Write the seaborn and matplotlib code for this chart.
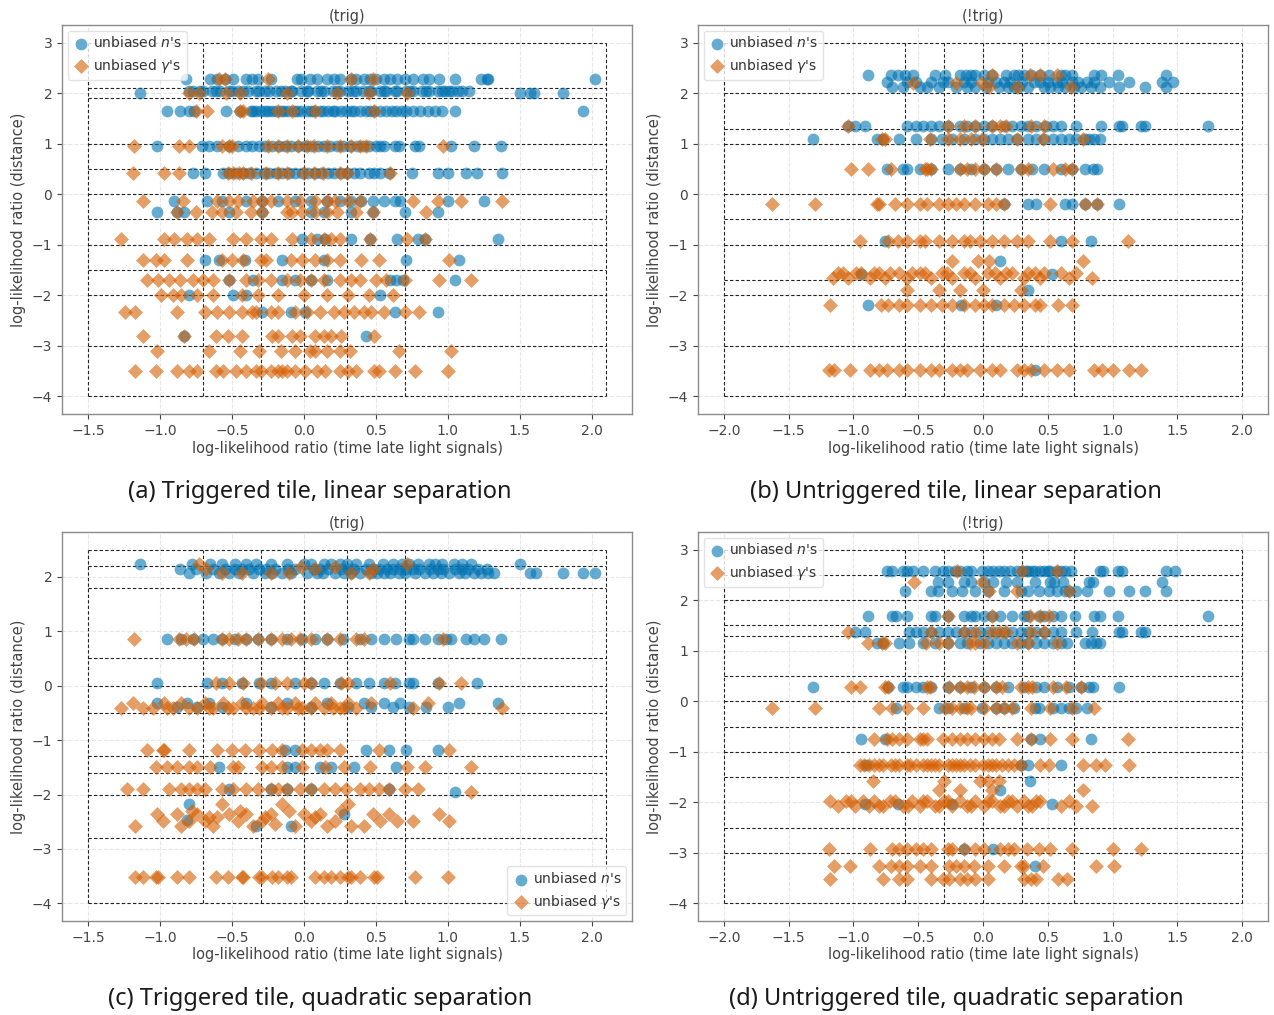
import numpy as np
import pandas as pd
import matplotlib
matplotlib.use("Agg")
import matplotlib.pyplot as plt
import seaborn as sns

BLUE = "#0173b2"
ORANGE = "#d55e00"
LABEL_N = "unbiased $n$'s"
LABEL_G = "unbiased $\\gamma$'s"

# ---------------------------------------------------------------------------
# (a) triggered tile, linear separation: rows of (distance LLR, [timing LLR])
# ---------------------------------------------------------------------------
A_N_ROWS = [
    (2.28, [-0.82, -0.65, -0.60, -0.55, -0.49, -0.40, -0.36, -0.32, -0.23, -0.05, -0.02, 0.04, 0.09,
            0.16, 0.21, 0.25, 0.33, 0.36, 0.42, 0.46, 0.50, 0.56, 0.60, 0.65, 0.70, 0.76, 0.83, 0.87,
            0.94, 1.05, 1.23, 1.27, 1.28, 2.02]),
    (2.05, [-0.80, -0.77, -0.72, -0.70, -0.64, -0.61, -0.58, -0.52, -0.50, -0.46, -0.42, -0.39, -0.33,
            -0.31, -0.27, -0.24, -0.19, -0.16, -0.13, -0.09, -0.08, -0.02, 0.02, 0.03, 0.09, 0.12, 0.14,
            0.20, 0.23, 0.25, 0.31, 0.34, 0.36, 0.41, 0.45, 0.47, 0.53, 0.56, 0.57, 0.63, 0.65, 0.71,
            0.74, 0.76, 0.82, 0.85, 0.87, 0.93, 0.96, 0.98, 1.01, 1.03, 1.07, 1.10, 1.15]),
    (2.00, [-1.14, 1.50, 1.57, 1.60, 1.80]),
    (1.65, [-0.95, -0.86, -0.80, -0.76, -0.54, -0.44, -0.37, -0.35, -0.33, -0.30, -0.27, -0.25, -0.22,
            -0.19, -0.16, -0.14, -0.11, -0.07, -0.05, -0.02, 0.02, 0.05, 0.07, 0.11, 0.13, 0.17, 0.20,
            0.22, 0.26, 0.29, 0.33, 0.35, 0.39, 0.43, 0.46, 0.49, 0.53, 0.57, 0.61, 0.64, 0.68, 0.71,
            0.76, 0.81, 0.86, 0.91, 0.96, 1.05, 1.94]),
    (0.95, [-1.02, -0.71, -0.66, -0.60, -0.52, -0.46, -0.40, -0.36, -0.31, -0.27, -0.22, -0.17, -0.13,
            -0.09, -0.04, 0.01, 0.05, 0.10, 0.14, 0.18, 0.23, 0.27, 0.32, 0.37, 0.41, 0.45, 0.50, 0.53,
            0.56, 0.63, 0.66, 0.77, 0.80, 1.02, 1.18, 1.37]),
    (0.42, [-0.77, -0.69, -0.56, -0.52, -0.47, -0.42, -0.38, -0.33, -0.28, -0.24, -0.19, -0.15, -0.10,
            -0.06, -0.01, 0.03, 0.08, 0.12, 0.17, 0.21, 0.26, 0.30, 0.35, 0.39, 0.45, 0.49, 0.53, 0.59,
            0.75, 0.93, 1.00, 1.13, 1.20, 1.38]),
    (-0.13, [-0.90, -0.67, -0.57, -0.40, -0.29, -0.18, -0.06, 0.05, 0.16, 0.25, 0.33, 0.40, 0.48, 0.56,
             0.63, 0.67, 1.00, 1.25]),
    (-0.35, [-1.02, -0.88, -0.83, -0.52, -0.29, 0.05, 0.14, 0.33, 0.48, 0.70, 0.93]),
    (-0.89, [-0.01, 0.09, 0.15, 0.33, 0.46, 0.65, 0.79, 0.84, 1.35]),
    (-1.30, [-0.69, -0.59, -0.41, -0.15, 0.14, 0.71, 1.08]),
    (-1.70, [-0.52, -0.35, -0.15, -0.06, 0.05, 0.16, 0.60, 0.64, 0.69, 1.05]),
    (-1.99, [-0.80, -0.49, -0.40, 0.53]),
    (-2.33, [-0.29, -0.09, 0.01, 0.63, 0.93]),
    (-2.81, [-0.83, 0.43]),
]
A_G_ROWS = [
    (2.28, [-0.59, -0.55, -0.25, 0.33, 0.48]),
    (2.00, [-0.80, -0.73, -0.54, -0.44, -0.12, 0.23, 0.45, 0.72]),
    (1.65, [-0.75, -0.67, -0.44, -0.42, -0.18, -0.08, 0.08, 0.49]),
    (0.95, [-1.18, -0.87, -0.80, -0.57, -0.52, -0.50, -0.25, -0.18, -0.12, -0.04, 0.02, 0.07, 0.16,
            0.25, 0.33, 0.39, 0.43, 0.97]),
    (0.42, [-1.19, -0.97, -0.87, -0.53, -0.49, -0.45, -0.42, -0.37, -0.26, -0.18, -0.12, 0.00, 0.07,
            0.13, 0.25, 0.30, 0.60]),
    (-0.13, [-1.12, -0.84, -0.60, -0.52, -0.46, -0.35, -0.29, -0.23, -0.12, -0.03, 0.08, 0.16, 0.22,
             0.31, 0.39, 0.76, 0.93, 1.09, 1.38]),
    (-0.35, [-0.88, -0.75, -0.64, -0.57, -0.47, -0.37, -0.29, -0.12, -0.08, -0.01, 0.08, 0.16, 0.23,
             0.36, 0.48, 0.85]),
    (-0.89, [-1.27, -0.97, -0.90, -0.81, -0.74, -0.66, -0.49, -0.40, -0.30, -0.23, -0.08, 0.05, 0.14,
             0.19, 0.25, 0.46, 0.72, 0.84]),
    (-1.30, [-1.12, -1.03, -0.97, -0.81, -0.57, -0.50, -0.42, -0.30, -0.26, -0.09, -0.01, 0.08, 0.16,
             0.25, 0.40, 0.52, 1.01]),
    (-1.70, [-1.09, -1.01, -0.94, -0.86, -0.77, -0.70, -0.63, -0.52, -0.40, -0.32, -0.23, -0.12, -0.03,
             0.05, 0.14, 0.25, 0.33, 0.39, 0.50, 0.57, 0.70, 0.94, 1.16]),
    (-1.99, [-0.99, -0.91, -0.85, -0.74, -0.63, -0.43, -0.32, -0.18, 0.00, 0.16, 0.31, 0.45, 0.62]),
    (-2.33, [-1.24, -1.17, -0.88, -0.69, -0.60, -0.52, -0.43, -0.36, -0.33, -0.23, -0.18, -0.06, 0.02,
             0.11, 0.21, 0.28, 0.35, 0.42, 0.47, 0.56, 0.70, 0.80]),
    (-2.81, [-1.12, -0.83, -0.61, -0.53, -0.43, -0.22, -0.18, -0.08, -0.03, 0.08, 0.14, 0.19, 0.26,
             0.49]),
    (-3.11, [-1.02, -0.66, -0.44, -0.31, -0.16, -0.06, 0.04, 0.08, 0.16, 0.25, 0.32, 0.66, 1.02]),
    (-3.50, [-1.17, -1.03, -0.88, -0.80, -0.74, -0.61, -0.56, -0.47, -0.40, -0.33, -0.30, -0.23, -0.18,
             -0.15, -0.12, -0.06, 0.01, 0.09, 0.15, 0.25, 0.31, 0.36, 0.49, 0.52, 0.63, 0.77, 1.00]),
]
A_HLINES = [3, 2.1, 1.9, 1, 0.5, 0, -0.5, -1, -1.5, -2, -3, -4]
A_VLINES = [-1.5, -0.7, -0.3, 0, 0.3, 0.7, 2.1]

# ---------------------------------------------------------------------------
# (b) untriggered tile, linear separation
# ---------------------------------------------------------------------------
B_N_ROWS = [
    (2.36, [-0.89, -0.71, -0.66, -0.60, -0.54, -0.37, -0.29, -0.18, -0.13, -0.09, -0.06, 0.01, 0.07,
            0.18, 0.24, 0.27, 0.32, 0.37, 0.44, 0.51, 0.60, 0.63, 0.69, 0.86, 0.91, 1.04, 1.41]),
    (2.22, [-0.74, -0.59, -0.52, -0.40, -0.31, -0.27, -0.15, -0.09, 0.04, 0.10, 0.16, 0.21, 0.30, 0.39,
            0.44, 0.50, 0.57, 0.61, 0.69, 0.73, 0.80, 0.86, 0.97, 1.13, 1.38, 1.47]),
    (2.13, [-0.70, -0.62, -0.49, -0.43, -0.34, -0.21, -0.12, -0.06, 0.02, 0.12, 0.19, 0.24, 0.28, 0.35,
            0.47, 0.52, 0.58, 0.63, 0.70, 0.76, 0.83, 0.90, 1.05, 1.25, 1.41]),
    (1.35, [-1.04, -0.99, -0.91, -0.59, -0.52, -0.46, -0.40, -0.34, -0.27, -0.18, -0.12, -0.06, 0.01,
            0.07, 0.16, 0.22, 0.29, 0.35, 0.41, 0.49, 0.54, 0.60, 0.72, 0.91, 1.05, 1.07, 1.22, 1.25,
            1.74]),
    (1.09, [-1.31, -0.82, -0.77, -0.65, -0.52, -0.40, -0.32, -0.24, -0.15, -0.06, 0.01, 0.07, 0.13,
            0.19, 0.26, 0.35, 0.41, 0.47, 0.54, 0.60, 0.66, 0.72, 0.79, 0.82, 0.86, 0.90]),
    (0.49, [-0.74, -0.62, -0.59, -0.49, -0.40, -0.27, -0.18, -0.09, 0.01, 0.10, 0.19, 0.29, 0.38, 0.47,
            0.60, 0.69, 0.79, 0.85, 0.88]),
    (-0.20, [0.16, 0.35, 0.41, 0.63, 0.69, 0.79, 0.88, 1.05]),
    (-0.92, [-0.76, 0.60, 0.83]),
    (-1.33, [0.13]),
    (-1.58, [-0.94, 0.53]),
    (-1.89, [0.35]),
    (-2.20, [-0.89, -0.17, 0.10]),
    (-3.47, [0.40]),
]
B_G_ROWS = [
    (2.36, [0.07, 0.36, 0.44, 0.57]),
    (2.20, [-0.54, -0.21, -0.01]),
    (2.13, [0.05, 0.26, 0.68]),
    (1.35, [-1.04, -0.27, -0.15, -0.06, 0.07, 0.13, 0.18, 0.37, 0.47]),
    (1.09, [-0.78, -0.76, -0.41, -0.27, -0.18, -0.09, -0.01, 0.26, 0.46, 0.77]),
    (0.49, [-1.02, -0.89, -0.71, -0.45, -0.43, -0.40, -0.18, -0.12, -0.06, 0.01, 0.10, 0.29, 0.35, 0.54,
            0.63, 0.69]),
    (-0.20, [-1.63, -1.30, -0.82, -0.80, -0.68, -0.59, -0.49, -0.43, -0.34, -0.27, -0.21, -0.15, -0.06,
             0.04, 0.10, 0.16, 0.52, 0.79, 0.88]),
    (-0.92, [-0.95, -0.73, -0.66, -0.59, -0.49, -0.45, -0.34, -0.24, -0.15, -0.10, -0.02, 0.07, 0.16,
             0.26, 0.35, 0.52, 0.69, 1.12]),
    (-1.33, [-0.24, -0.04, 0.05, 0.77]),
    (-1.55, [-1.12, -1.08, -0.98, -0.94, -0.84, -0.80, -0.72, -0.65, -0.55, -0.49, -0.45, -0.32, -0.28,
             -0.15, -0.10, 0.04, 0.09, 0.18, 0.22, 0.35, 0.40, 0.47, 0.60, 0.72]),
    (-1.65, [-1.16, -1.04, -0.87, -0.76, -0.59, -0.40, -0.24, -0.06, 0.13, 0.32, 0.44, 0.66, 0.84]),
    (-1.89, [-0.59, -0.34, -0.18, 0.00, 0.29]),
    (-2.20, [-1.18, -0.79, -0.73, -0.65, -0.59, -0.49, -0.40, -0.32, -0.24, -0.15, -0.06, 0.01, 0.07,
             0.16, 0.24, 0.32, 0.40, 0.44, 0.58, 0.69]),
    (-3.47, [-1.19, -1.15, -1.03, -0.87, -0.80, -0.74, -0.65, -0.59, -0.49, -0.40, -0.34, -0.24, -0.18,
             -0.12, -0.02, 0.07, 0.13, 0.26, 0.32, 0.37, 0.47, 0.57, 0.66, 0.86, 0.92, 1.00, 1.13,
             1.22]),
]
B_HLINES = [3, 2, 1.3, 1, 0, -0.5, -1, -1.7, -2, -3, -4]
B_VLINES = [-2, -0.6, -0.3, 0, 0.3, 0.7, 2]

# ---------------------------------------------------------------------------
# (c) triggered tile, quadratic separation
# ---------------------------------------------------------------------------
C_N_ROWS = [
    (2.24, [-1.14, -0.78, -0.65, -0.57, -0.48, -0.40, -0.33, -0.23, -0.12, 0.00, 0.05, 0.14, 0.19, 0.25,
            0.30, 0.36, 0.45, 0.55, 0.62, 0.68, 0.73, 0.79, 0.87, 0.91, 0.96, 1.04, 1.10, 1.16, 1.50]),
    (2.15, [-0.86, -0.75, -0.63, -0.55, -0.48, -0.43, -0.38, -0.31, -0.26, -0.20, -0.11, -0.06, 0.07,
            0.11, 0.17, 0.26, 0.31, 0.35, 0.43, 0.48, 0.52, 0.58, 0.62, 0.67, 0.71, 0.76, 0.80, 0.88,
            0.93, 0.97, 1.05, 1.10, 1.14, 1.21, 1.27]),
    (2.07, [-0.80, -0.68, -0.59, -0.52, -0.45, -0.35, -0.27, -0.22, -0.15, -0.09, 0.02, 0.09, 0.13,
            0.22, 0.28, 0.33, 0.39, 0.47, 0.51, 0.56, 0.60, 0.66, 0.70, 0.77, 0.84, 0.90, 0.95, 1.01,
            1.08, 1.12, 1.18, 1.23, 1.28, 1.32, 1.57, 1.61, 1.80, 1.94, 2.02]),
    (0.86, [-0.95, -0.85, -0.77, -0.70, -0.63, -0.57, -0.48, -0.40, -0.32, -0.23, -0.12, -0.01, 0.08,
            0.16, 0.27, 0.39, 0.47, 0.56, 0.64, 0.73, 0.76, 0.84, 0.93, 0.99, 1.02, 1.13, 1.18, 1.25,
            1.37]),
    (0.05, [-1.02, -0.67, -0.57, -0.43, -0.31, -0.23, -0.06, 0.05, 0.14, 0.25, 0.36, 0.45, 0.56, 0.63,
            0.73, 0.76, 0.93, 1.20]),
    (-0.31, [-1.02, -0.81, -0.66, -0.40, -0.12, 0.16, 0.42, 0.56, 0.67, 1.08, 1.35]),
    (-0.40, [-0.88, -0.74, -0.57, -0.23, 0.05, 0.31, 0.47, 0.62, 0.73, 0.85, 1.00]),
    (-1.19, [-0.13, -0.06, 0.43, 0.59, 0.71, 0.93]),
    (-1.49, [-0.59, -0.12, -0.06, 0.11, 0.19, 0.35, 0.64]),
    (-1.90, [-0.52, -0.23, -0.12, 0.05, 0.59]),
    (-1.95, [1.05]),
    (-2.18, [-0.80]),
    (-2.36, [0.28]),
    (-2.47, [-0.81]),
    (-2.57, [-0.33, -0.09]),
]
C_G_ROWS = [
    (2.24, [-0.73, 0.72]),
    (2.18, [-0.02, 0.22]),
    (2.14, [-0.68, 0.08, 0.48]),
    (2.07, [-0.57, -0.43, -0.23, -0.10, 0.33, 0.45]),
    (0.86, [-1.18, -0.87, -0.82, -0.76, -0.57, -0.52, -0.46, -0.40, -0.32, -0.23, -0.15, -0.09, -0.03,
            0.05, 0.16, 0.25, 0.36, 0.42, 0.97]),
    (0.05, [-0.61, -0.52, -0.42, -0.30, -0.20, -0.12, 0.00, 0.05, 0.26, 0.31, 0.60, 0.94, 1.09]),
    (-0.31, [-1.19, -0.97, -0.85, -0.69, -0.56, -0.43, -0.29, -0.18, -0.06, 0.08, 0.19, 0.31, 0.47,
             0.86]),
    (-0.41, [-1.27, -1.12, -1.05, -0.95, -0.91, -0.80, -0.74, -0.66, -0.63, -0.53, -0.49, -0.40, -0.35,
             -0.31, -0.23, -0.15, -0.12, -0.04, -0.01, 0.05, 0.14, 0.20, 0.25, 0.28, 0.36, 0.76, 1.38]),
    (-1.19, [-1.09, -0.98, -0.97, -0.80, -0.60, -0.50, -0.41, -0.31, -0.22, -0.15, -0.01, 0.05, 0.11,
             0.16, 0.25, 0.52, 1.01]),
    (-1.49, [-1.03, -0.95, -0.88, -0.80, -0.74, -0.65, -0.49, -0.46, -0.29, -0.23, -0.15, -0.01, 0.15,
             0.28, 0.46, 0.72, 0.84, 1.16]),
    (-1.90, [-1.23, -1.12, -0.94, -0.85, -0.80, -0.74, -0.69, -0.57, -0.49, -0.40, -0.32, -0.23, -0.18,
             -0.12, -0.03, 0.05, 0.14, 0.22, 0.29, 0.39, 0.45, 0.52, 0.59, 0.70, 0.79]),
    (-1.95, [1.16]),
    (-2.18, [-0.57, -0.15, 0.31]),
    (-2.30, [-0.78, -0.44, -0.10, 0.26]),
    (-2.36, [-1.02, -0.88, -0.74, -0.52, -0.40, -0.23, 0.00, 0.11, 0.48, 0.59, 0.94]),
    (-2.42, [-0.66, -0.60, -0.27, 0.08]),
    (-2.48, [-0.98, -0.80, -0.69, -0.46, -0.29, 0.05, 0.22, 0.53, 0.65, 0.76, 1.01]),
    (-2.55, [-0.20]),
    (-2.57, [-1.17, -0.85, -0.63, -0.35, -0.06, 0.16, 0.33, 0.42]),
    (-3.51, [-1.17, -1.12, -1.03, -1.01, -0.88, -0.80, -0.61, -0.53, -0.43, -0.42, -0.31, -0.29, -0.22,
             -0.18, -0.12, -0.09, 0.08, 0.14, 0.19, 0.25, 0.31, 0.33, 0.39, 0.49, 0.51, 0.77, 1.00]),
]
C_HLINES = [2.5, 2.2, 1.8, 0.5, 0, -0.5, -1.3, -1.6, -2, -2.8, -4]
C_VLINES = [-1.5, -0.7, -0.3, 0, 0.3, 0.7, 2.1]

# ---------------------------------------------------------------------------
# (d) untriggered tile, quadratic separation
# ---------------------------------------------------------------------------
D_N_ROWS = [
    (2.57, [-0.74, -0.70, -0.62, -0.59, -0.54, -0.46, -0.37, -0.31, -0.27, -0.22, -0.18, -0.12, -0.09,
            -0.01, 0.04, 0.08, 0.12, 0.16, 0.21, 0.26, 0.30, 0.33, 0.35, 0.38, 0.40, 0.44, 0.47, 0.50,
            0.52, 0.57, 0.60, 0.63, 0.68, 0.90, 0.93, 1.04, 1.07, 1.41, 1.48]),
    (2.36, [-0.35, -0.27, -0.15, -0.09, 0.01, 0.08, 0.18, 0.26, 0.40, 0.52, 0.55, 0.62, 0.82, 0.85,
            1.38]),
    (2.19, [-0.60, -0.40, -0.35, -0.24, -0.16, -0.06, 0.04, 0.16, 0.29, 0.35, 0.43, 0.51, 0.57, 0.63,
            0.66, 0.72, 0.80, 0.97, 1.13, 1.25, 1.41]),
    (1.68, [-0.89, -0.70, -0.67, -0.59, -0.40, -0.37, -0.27, -0.15, -0.09, -0.06, 0.01, 0.07, 0.13,
            0.22, 0.32, 0.35, 0.43, 0.47, 0.54, 0.60, 0.71, 0.86, 0.90, 1.04, 1.74]),
    (1.37, [-0.99, -0.91, -0.57, -0.52, -0.46, -0.40, -0.34, -0.27, -0.21, -0.15, -0.09, -0.02, 0.04,
            0.10, 0.16, 0.22, 0.29, 0.35, 0.41, 0.47, 0.54, 0.60, 0.72, 0.84, 1.05, 1.07, 1.22, 1.25]),
    (1.16, [-0.82, -0.77, -0.65, -0.57, -0.46, -0.37, -0.27, -0.18, -0.12, -0.02, 0.04, 0.10, 0.16,
            0.22, 0.29, 0.35, 0.41, 0.47, 0.54, 0.60, 0.65, 0.79, 0.83, 0.87, 0.90]),
    (0.28, [-1.31, -0.73, -0.62, -0.59, -0.52, -0.46, -0.40, -0.27, -0.18, -0.09, 0.01, 0.10, 0.19,
            0.32, 0.41, 0.47, 0.57, 0.66, 0.76, 0.82, 0.85, 1.05]),
    (-0.14, [-0.67, -0.34, -0.27, -0.15, -0.01, 0.10, 0.16, 0.24, 0.40, 0.43, 0.54, 0.60, 0.66, 0.72,
             0.80]),
    (-0.75, [-0.94, -0.76, 0.37, 0.44, 0.83]),
    (-1.27, [-0.90, 0.29, 0.35, 0.60]),
    (-1.57, [0.36]),
    (-1.75, [0.13]),
    (-2.03, [-0.91, -0.66, -0.24, 0.53]),
    (-2.93, [-0.15, 0.08]),
    (-3.26, [0.40]),
]
D_G_ROWS = [
    (2.57, [-0.20, 0.30, 0.57]),
    (2.36, [-0.53, -0.01]),
    (2.19, [0.05, 0.26, 0.66]),
    (1.68, [-0.27, 0.07, 0.36, 0.44, 0.51]),
    (1.37, [-1.04, -0.40, -0.15, -0.06, 0.07, 0.13, 0.18, 0.37, 0.47]),
    (1.16, [-0.89, -0.78, -0.76, -0.44, -0.34, -0.27, -0.10, -0.06, 0.01, 0.26, 0.35, 0.57]),
    (0.28, [-1.02, -0.95, -0.76, -0.73, -0.43, -0.41, -0.26, -0.18, -0.12, -0.07, 0.01, 0.10, 0.15,
            0.29, 0.35, 0.38, 0.54, 0.64, 0.76]),
    (-0.14, [-1.63, -1.30, -0.80, -0.70, -0.59, -0.46, -0.29, -0.24, -0.18, -0.12, -0.09, 0.01, 0.10,
             0.16, 0.22, 0.37, 0.52, 0.69, 0.86]),
    (-0.75, [-0.84, -0.74, -0.70, -0.65, -0.59, -0.49, -0.46, -0.43, -0.31, -0.24, -0.18, -0.12, -0.06,
             0.01, 0.07, 0.12, 0.26, 0.37, 0.52, 0.69, 1.12]),
    (-1.27, [-0.95, -0.92, -0.88, -0.84, -0.80, -0.77, -0.71, -0.68, -0.65, -0.59, -0.56, -0.52, -0.46,
             -0.43, -0.40, -0.37, -0.34, -0.27, -0.24, -0.21, -0.18, -0.15, -0.10, -0.06, 0.00, 0.04,
             0.07, 0.10, 0.15, 0.19, 0.24, 0.29, 0.44, 0.51, 0.77, 0.87, 0.94, 1.13]),
    (-1.57, [-0.85, -0.30, -0.02, 0.04, 0.12]),
    (-1.75, [-0.34, -0.18, 0.07, 0.77]),
    (-1.98, [-1.18, -1.06, -1.02, -0.93, -0.84, -0.72, -0.68, -0.55, -0.46, -0.43, -0.30, -0.27, -0.18,
             -0.06, 0.04, 0.07, 0.19, 0.22, 0.32, 0.41, 0.44, 0.66]),
    (-2.08, [-1.12, -0.99, -0.88, -0.80, -0.77, -0.62, -0.58, -0.49, -0.37, -0.34, -0.24, -0.12, -0.09,
             0.01, 0.13, 0.16, 0.26, 0.35, 0.38, 0.60, 0.72, 0.84]),
    (-2.93, [-1.19, -0.87, -0.70, -0.65, -0.59, -0.52, -0.46, -0.40, -0.27, -0.24, -0.15, -0.06, 0.01,
             0.13, 0.19, 0.24, 0.34, 0.43, 0.52, 0.69, 1.00, 1.22]),
    (-3.26, [-1.15, -1.03, -0.80, -0.71, -0.65, -0.59, -0.49, -0.40, -0.26, -0.21, -0.15, -0.07, 0.04,
             0.16, 0.29, 0.32, 0.46, 0.87, 1.01]),
    (-3.51, [-1.18, -0.77, -0.65, -0.59, -0.40, -0.31, -0.26, -0.18, -0.12, -0.06, 0.04, 0.32, 0.37,
             0.41, 0.58, 0.65]),
]
D_HLINES = [3, 2.5, 2, 1.5, 1.3, 0.5, 0, -0.5, -1, -1.5, -2.5, -3, -4]
D_VLINES = [-2, -0.6, -0.3, 0, 0.3, 0.7, 2]

TITLES = ["(trig)", "(!trig)", "(trig)", "(!trig)"]
CAPTIONS = [
    "(a) Triggered tile, linear separation",
    "(b) Untriggered tile, linear separation",
    "(c) Triggered tile, quadratic separation",
    "(d) Untriggered tile, quadratic separation",
]


def rows_to_frame(rows):
    xs, ys = [], []
    for y, xvals in rows:
        xs.extend(xvals)
        ys.extend([y] * len(xvals))
    return pd.DataFrame({"x": xs, "y": ys})


sns.set_theme(style="whitegrid")
plt.rcParams.update({
    "font.family": ["DejaVu Sans"],
    "axes.edgecolor": "#8c8c8c",
    "axes.linewidth": 1.0,
    "grid.color": "#e6e6e6",
    "grid.linestyle": "--",
    "grid.linewidth": 0.8,
    "xtick.color": "#444444",
    "ytick.color": "#444444",
    "xtick.labelcolor": "#444444",
    "ytick.labelcolor": "#444444",
    "xtick.major.size": 3.5,
    "ytick.major.size": 3.5,
    "xtick.major.width": 0.8,
    "ytick.major.width": 0.8,
    "xtick.bottom": True,
    "ytick.left": True,
    "xtick.labelsize": 10,
    "ytick.labelsize": 10,
    "axes.labelsize": 10.5,
    "axes.labelcolor": "#444444",
    "axes.titlesize": 10.5,
    "axes.titlecolor": "#444444",
    "legend.fontsize": 10,
})

fig = plt.figure(figsize=(12.74, 10.15), dpi=100)

W, H = 1274.0, 1015.0
panel_px = [(62, 25), (698, 25), (62, 532), (698, 532)]
ax_w, ax_h = 570, 389

panels = [
    (A_N_ROWS, A_G_ROWS, A_HLINES, A_VLINES, "upper left"),
    (B_N_ROWS, B_G_ROWS, B_HLINES, B_VLINES, "upper left"),
    (C_N_ROWS, C_G_ROWS, C_HLINES, C_VLINES, "lower right"),
    (D_N_ROWS, D_G_ROWS, D_HLINES, D_VLINES, "upper left"),
]

for i, (n_rows, g_rows, hl, vl, loc) in enumerate(panels):
    lx, ty = panel_px[i]
    ax = fig.add_axes([lx / W, 1 - (ty + ax_h) / H, ax_w / W, ax_h / H])
    ax.set_axisbelow(True)

    # selection boxes
    ax.hlines(hl, vl[0], vl[-1], colors="#222222", linestyles=(0, (3, 2)), linewidth=0.8, zorder=1.5)
    ax.vlines(vl, hl[-1], hl[0], colors="#222222", linestyles=(0, (3, 2)), linewidth=0.8, zorder=1.5)

    df_n = rows_to_frame(n_rows)
    df_g = rows_to_frame(g_rows)
    sns.scatterplot(data=df_n, x="x", y="y", color=BLUE, marker="o", s=72, alpha=0.6,
                    linewidth=0, label=LABEL_N, ax=ax, zorder=3)
    sns.scatterplot(data=df_g, x="x", y="y", color=ORANGE, marker="D", s=58, alpha=0.6,
                    linewidth=0, label=LABEL_G, ax=ax, zorder=4)

    xspan = vl[-1] - vl[0]
    yspan = hl[0] - hl[-1]
    ax.set_xlim(vl[0] - 0.05 * xspan, vl[-1] + 0.05 * xspan)
    ax.set_ylim(hl[-1] - 0.05 * yspan, hl[0] + 0.05 * yspan)
    ax.set_xticks(np.arange(np.ceil(vl[0] * 2) / 2, vl[-1] + 0.01, 0.5))
    ax.set_yticks(np.arange(int(np.ceil(hl[-1])), int(np.floor(hl[0])) + 1, 1))
    ax.tick_params(pad=3.5)

    ax.set_xlabel("log-likelihood ratio (time late light signals)", labelpad=2)
    ax.set_ylabel("log-likelihood ratio (distance)", labelpad=4)
    ax.set_title(TITLES[i], pad=3)

    leg = ax.legend(loc=loc, frameon=True, handletextpad=0.2, borderpad=0.35,
                    labelspacing=0.45, borderaxespad=0.4, handlelength=1.3)
    leg.get_frame().set_edgecolor("#dddddd")
    for t in leg.get_texts():
        t.set_color("#333333")

    cx = (lx + 258) / W
    cy = 1 - (ty + ax_h + 78) / H
    fig.text(cx, cy, CAPTIONS[i], ha="center", va="center", fontsize=17,
             family=["Noto Sans", "DejaVu Sans"], color="#1a1a1a")

fig.savefig("out.png", dpi=100)
